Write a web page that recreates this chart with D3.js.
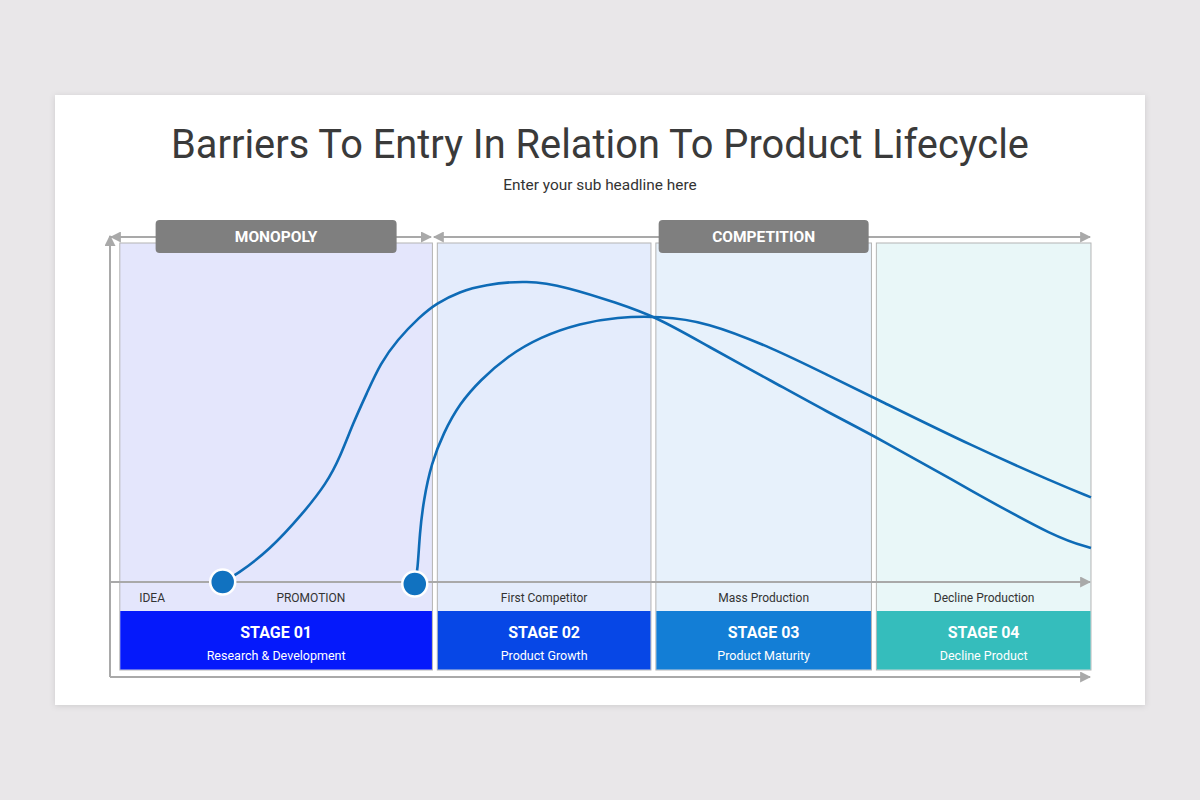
<!DOCTYPE html>
<html>
<head>
<meta charset="utf-8">
<script src="https://cdn.jsdelivr.net/npm/d3@7"></script>
<style>
  body { margin: 0; background: #e9e7e9; }
  text { font-family: Roboto, "Noto Sans", sans-serif; }
</style>
</head>
<body>
<script>
// stages (x in timeline units 0..100)
var stageTitles = ["STAGE 01", "STAGE 02", "STAGE 03", "STAGE 04"];
var stageNames = ["Research & Development", "Product Growth", "Product Maturity", "Decline Product"];
var stageStart = [1.0, 33.4, 55.7, 78.2];
var stageEnd = [32.9, 55.2, 77.7, 100.1];

var phaseNames = ["MONOPOLY", "COMPETITION"];
var phaseStart = [0, 32.9];
var phaseEnd = [32.9, 100];
var phaseStage = [0, 2];

var milestoneLabels = ["IDEA", "PROMOTION", "First Competitor", "Mass Production", "Decline Production"];
var milestoneX = [4.3, 20.5, 44.3, 66.7, 89.2];

// barrier curves: [time, level]
var firstMover = [[11.5, 0], [12.9, 2.1], [16.3, 9.4], [19.7, 20.2], [22.1, 29.0], [23.5, 36.9],
  [24.8, 46.7], [26.2, 55.5], [27.6, 64.3], [29.3, 71.2], [31.6, 78.0], [33.3, 82.0], [35.7, 85.4],
  [38.1, 87.4], [42.6, 88.8], [46.6, 86.8], [51.7, 82.1], [55.8, 77.9], [60.9, 69.5], [67.7, 58.8],
  [73.2, 50.0], [78.3, 42.5], [88.1, 26.5], [96.6, 12.9], [100.1, 10.0]];
var follower = [[31.1, -0.6], [31.4, 3.5], [31.6, 14.3], [32.0, 24.1], [32.8, 34.9], [34.0, 43.7],
  [35.7, 52.6], [37.8, 59.4], [40.5, 66.3], [43.9, 72.1], [48.0, 76.1], [51.7, 77.9], [56.1, 78.2],
  [60.8, 76.6], [67.7, 68.7], [73.2, 60.9], [78.3, 53.7], [88.1, 39.8], [96.6, 29.0], [100.1, 24.9]];

var stageColors = ["#0519fb", "#0747e6", "#137ed6", "#35bdbc"];
var panelColors = ["#e4e6fc", "#e4ecfc", "#e7f1fb", "#e9f7f8"];
var phaseBoxW = [241, 210];

var W = 1200, H = 800;
var svg = d3.select("body").append("svg")
  .attr("width", W)
  .attr("height", H);

var defs = svg.append("defs");
var shadow = defs.append("filter").attr("id", "shadow")
  .attr("x", "-5%").attr("y", "-5%").attr("width", "110%").attr("height", "110%");
shadow.append("feDropShadow").attr("dx", 0).attr("dy", 1).attr("stdDeviation", 3)
  .attr("flood-color", "#000").attr("flood-opacity", 0.12);

defs.append("marker")
  .attr("id", "arrow")
  .attr("viewBox", "0 0 10 10")
  .attr("refX", 9).attr("refY", 5)
  .attr("markerWidth", 5.5).attr("markerHeight", 5.5)
  .attr("orient", "auto-start-reverse")
  .append("path").attr("d", "M0,0L10,5L0,10Z").attr("fill", "#a9a9a9");

// card
svg.append("rect")
  .attr("x", 55).attr("y", 95)
  .attr("width", 1090).attr("height", 610)
  .attr("fill", "#fff")
  .attr("filter", "url(#shadow)");

svg.append("text")
  .attr("x", 600).attr("y", 157.5)
  .attr("text-anchor", "middle")
  .attr("font-size", 39.8)
  .attr("fill", "#3a3a3a")
  .text("Barriers To Entry In Relation To Product Lifecycle");

svg.append("text")
  .attr("x", 600).attr("y", 189.5)
  .attr("text-anchor", "middle")
  .attr("font-size", 15.4)
  .attr("fill", "#333")
  .text("Enter your sub headline here");

var x = d3.scaleLinear().domain([0, 100]).range([110, 1090]);
var y = d3.scaleLinear().domain([0, 100]).range([582, 242]);

var panelTop = 243, stripBottom = 611, panelBottom = 670;

// panels
var stages = d3.range(stageTitles.length);
svg.selectAll(".panel").data(stages).enter().append("rect")
  .attr("class", "panel")
  .attr("x", function(d) { return x(stageStart[d]); })
  .attr("y", panelTop)
  .attr("width", function(d) { return x(stageEnd[d]) - x(stageStart[d]); })
  .attr("height", panelBottom - panelTop)
  .attr("fill", function(d) { return panelColors[d]; })
  .attr("stroke", "#b4b4b4")
  .attr("stroke-width", 1);

// stage blocks
svg.selectAll(".stage").data(stages).enter().append("rect")
  .attr("class", "stage")
  .attr("x", function(d) { return x(stageStart[d]) + 0.5; })
  .attr("y", stripBottom)
  .attr("width", function(d) { return x(stageEnd[d]) - x(stageStart[d]) - 1; })
  .attr("height", panelBottom - stripBottom - 0.5)
  .attr("fill", function(d) { return stageColors[d]; });

svg.selectAll(".stageTitle").data(stages).enter().append("text")
  .attr("x", function(d) { return (x(stageStart[d]) + x(stageEnd[d])) / 2; })
  .attr("y", 637.5)
  .attr("text-anchor", "middle")
  .attr("font-size", 16)
  .attr("font-weight", "bold")
  .attr("fill", "#fff")
  .text(function(d) { return stageTitles[d]; });

svg.selectAll(".stageName").data(stages).enter().append("text")
  .attr("x", function(d) { return (x(stageStart[d]) + x(stageEnd[d])) / 2; })
  .attr("y", 659.5)
  .attr("text-anchor", "middle")
  .attr("font-size", 12.5)
  .attr("fill", "#fff")
  .text(function(d) { return stageNames[d]; });

// milestone labels
svg.selectAll(".milestone").data(milestoneLabels).enter().append("text")
  .attr("x", function(d, i) { return x(milestoneX[i]); })
  .attr("y", 601.5)
  .attr("text-anchor", "middle")
  .attr("font-size", 12)
  .attr("fill", "#333")
  .text(function(d) { return d; });

// axes
function arrowLine(x1, y1, x2, y2, both) {
  var l = svg.append("line")
    .attr("x1", x1).attr("y1", y1)
    .attr("x2", x2).attr("y2", y2)
    .attr("stroke", "#a9a9a9")
    .attr("stroke-width", 2)
    .attr("marker-end", "url(#arrow)");
  if (both) l.attr("marker-start", "url(#arrow)");
}
arrowLine(x(0), 677, x(0), 236, false);
arrowLine(x(0), 677, x(100), 677, false);
arrowLine(x(0), 582, x(100), 582, false);
for (var p = 0; p < phaseNames.length; p++) {
  arrowLine(x(phaseStart[p]) + (p > 0 ? 1.5 : 1), 237, x(phaseEnd[p]) - (p < phaseNames.length - 1 ? 1.5 : 0), 237, true);
}

// phase labels
var phases = d3.range(phaseNames.length);
svg.selectAll(".phaseBox").data(phases).enter().append("rect")
  .attr("class", "phaseBox")
  .attr("x", function(d) { var s = phaseStage[d]; return (x(stageStart[s]) + x(stageEnd[s])) / 2 - phaseBoxW[d] / 2; })
  .attr("y", 220)
  .attr("width", function(d) { return phaseBoxW[d]; })
  .attr("height", 33)
  .attr("rx", 4)
  .attr("fill", "#7f7f7f");

svg.selectAll(".phaseText").data(phases).enter().append("text")
  .attr("x", function(d) { var s = phaseStage[d]; return (x(stageStart[s]) + x(stageEnd[s])) / 2; })
  .attr("y", 241.5)
  .attr("text-anchor", "middle")
  .attr("font-size", 15.5)
  .attr("font-weight", "bold")
  .attr("fill", "#fff")
  .text(function(d) { return phaseNames[d]; });

// curves
var line = d3.line()
  .x(function(d) { return x(d[0]); })
  .y(function(d) { return y(d[1]); })
  .curve(d3.curveBasis);

[firstMover, follower].forEach(function(series) {
  svg.append("path")
    .datum(series)
    .attr("d", line)
    .attr("fill", "none")
    .attr("stroke", "#0e6bb6")
    .attr("stroke-width", 2.6);
});

svg.selectAll(".start").data([firstMover[0], follower[0]]).enter().append("circle")
  .attr("cx", function(d) { return x(d[0]); })
  .attr("cy", function(d) { return y(d[1]); })
  .attr("r", 12.5)
  .attr("fill", "#1172c0")
  .attr("stroke", "#fff")
  .attr("stroke-width", 2.5);
</script>
</body>
</html>
